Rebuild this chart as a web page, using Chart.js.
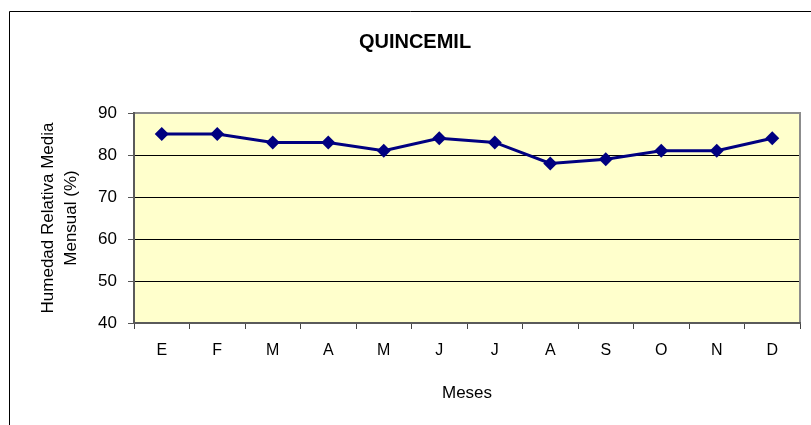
<!DOCTYPE html>
<html lang="es">
<head>
  <meta charset="UTF-8" />
  <title>Quincemil</title>
  <script src="https://cdn.jsdelivr.net/npm/chart.js"></script>
  <style>
    html, body { margin: 0; padding: 0; background: #fff; }
    canvas { display: block; }
  </style>
</head>
<body>
<canvas id="humedadChart" width="811" height="425"></canvas>

<script>
  const meses = ['E', 'F', 'M', 'A', 'M', 'J', 'J', 'A', 'S', 'O', 'N', 'D'];
  const humedad = [85, 85, 83, 83, 81, 84, 83, 78, 79, 81, 81, 84];
  const yTicks = [40, 50, 60, 70, 80, 90];

  // plot area fill + frame, outer chart frame
  const marco = {
    id: 'marco',
    beforeDraw(chart) {
      const { ctx, chartArea: a } = chart;
      ctx.save();
      ctx.fillStyle = '#FFFFCC';
      ctx.fillRect(a.left, a.top, a.right - a.left, a.bottom - a.top);
      ctx.restore();
    },
    beforeDatasetsDraw(chart) {
      const { ctx, chartArea: a } = chart;
      ctx.save();
      ctx.lineWidth = 2;
      ctx.strokeStyle = '#8c8c8c';
      ctx.beginPath();
      ctx.moveTo(a.left, a.top);
      ctx.lineTo(a.right, a.top);
      ctx.lineTo(a.right, a.bottom);
      ctx.stroke();
      ctx.strokeStyle = '#5a5a5a';
      ctx.beginPath();
      ctx.moveTo(a.left, a.top - 1);
      ctx.lineTo(a.left, a.bottom);
      ctx.lineTo(a.right + 1, a.bottom);
      ctx.stroke();
      ctx.restore();
    },
    afterDraw(chart) {
      const ctx = chart.ctx;
      ctx.save();
      ctx.strokeStyle = '#000';
      ctx.lineWidth = 1;
      ctx.beginPath();
      ctx.moveTo(9.5, chart.height);
      ctx.lineTo(9.5, 11.5);
      ctx.lineTo(chart.width, 11.5);
      ctx.stroke();
      ctx.restore();
    }
  };

  const ctx = document.getElementById('humedadChart').getContext('2d');
  new Chart(ctx, {
    type: 'line',
    data: {
      labels: meses,
      datasets: [{
        data: humedad,
        borderColor: '#000080',
        backgroundColor: '#000080',
        borderWidth: 3,
        pointStyle: 'rectRot',
        pointRadius: 7,
        pointBorderWidth: 0,
        tension: 0
      }]
    },
    options: {
      responsive: false,
      animation: false,
      layout: { padding: { top: 0, right: 11, bottom: 0, left: 30 } },
      plugins: {
        legend: { display: false },
        tooltip: { enabled: false },
        title: {
          display: true,
          text: 'QUINCEMIL',
          color: '#000',
          font: { family: 'Liberation Sans', size: 20, weight: 'bold' },
          padding: { top: 30, bottom: 59 }
        }
      },
      scales: {
        x: {
          offset: true,
          afterFit(scale) { scale.height = 102; },
          border: { display: false },
          grid: {
            display: true,
            offset: true,
            drawOnChartArea: false,
            drawTicks: true,
            tickLength: 6,
            tickColor: '#444'
          },
          ticks: {
            color: '#000',
            padding: 12,
            font: { family: 'Liberation Sans', size: 16 }
          },
          title: {
            display: true,
            text: 'Meses',
            color: '#000',
            font: { family: 'Liberation Sans', size: 17 },
            padding: { top: 0, bottom: 21 }
          }
        },
        y: {
          min: 40,
          max: 90,
          afterFit(scale) { scale.width = 104; },
          afterBuildTicks(scale) { scale.ticks = yTicks.map(v => ({ value: v })); },
          border: { display: false },
          grid: {
            color: '#000',
            lineWidth: 1,
            drawTicks: true,
            tickLength: 6,
            tickColor: '#555'
          },
          ticks: {
            color: '#000',
            padding: 11,
            font: { family: 'Liberation Sans', size: 17 }
          },
          title: {
            display: true,
            text: ['Humedad Relativa Media', 'Mensual (%)'],
            color: '#000',
            font: { family: 'Liberation Sans', size: 17, lineHeight: '23px' },
            padding: { top: 7, bottom: 0 }
          }
        }
      }
    },
    plugins: [marco]
  });
</script>
</body>
</html>
